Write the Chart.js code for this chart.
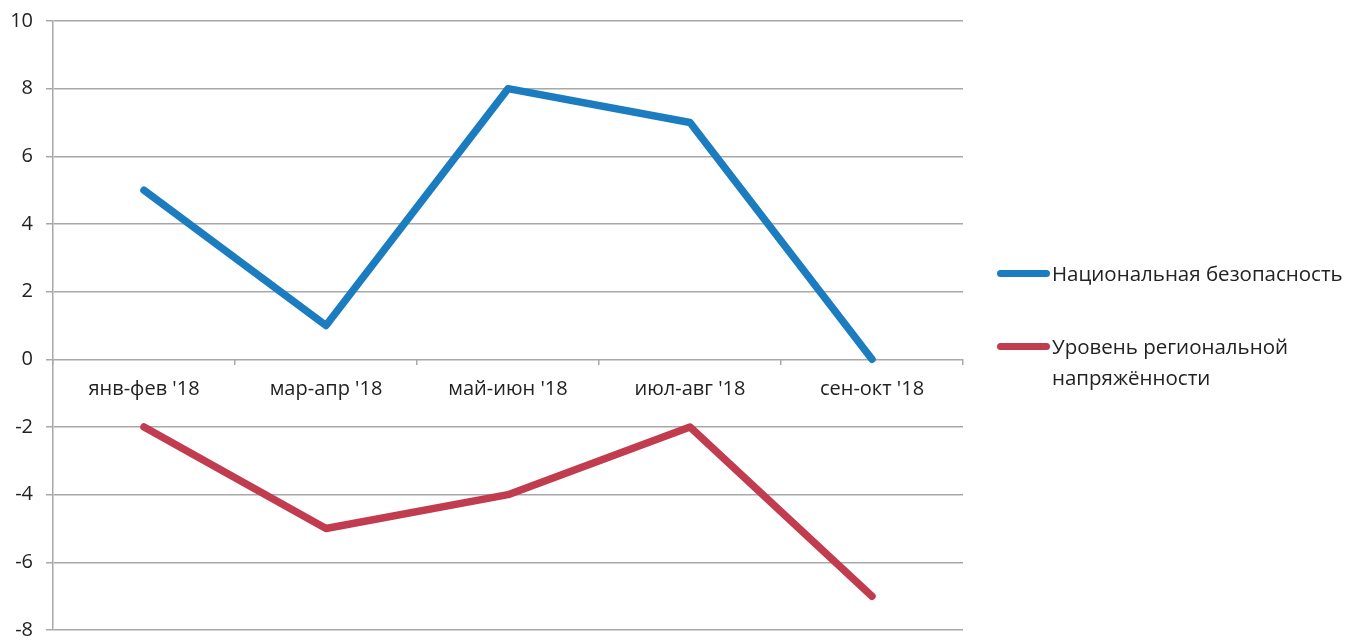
<!DOCTYPE html>
<html>
<head>
<meta charset="utf-8">
<script src="https://cdn.jsdelivr.net/npm/chart.js@4"></script>
<style>
  html, body { margin: 0; padding: 0; background: #fff; }
  #wrap { position: relative; width: 1362px; height: 640px; }
  #legend { position: absolute; left: 997px; top: 0; font-family: "Open Sans", sans-serif; font-size: 20.5px; color: #222; }
  .item { position: absolute; left: 0; display: flex; align-items: flex-start; white-space: nowrap; line-height: 31px; }
  .swatch { width: 53px; height: 7px; border-radius: 4px; margin-top: 12px; margin-right: 2px; }
</style>
</head>
<body>
<div id="wrap">
  <canvas id="chart" width="1362" height="640"></canvas>
  <div id="legend"></div>
</div>
<script>
// ---- Data ----------------------------------------------------------------
const categories = ["янв-фев '18", "мар-апр '18", "май-июн '18", "июл-авг '18", "сен-окт '18"];
const nationalSecurity = [5, 1, 8, 7, 0];
const regionalTension = [-2, -5, -4, -2, -7];
const seriesNames = ["Национальная безопасность", ["Уровень региональной", "напряжённости"]];
const seriesColors = ["#1b7cc0", "#c23c4f"];
const yTicks = { min: -8, max: 10, step: 2 };

// ---- Chart ---------------------------------------------------------------
const font = { family: "'Open Sans', sans-serif", size: 20 };
const gridColor = "#a8a8a8";

new Chart(document.getElementById("chart"), {
  type: "line",
  data: {
    labels: categories,
    datasets: [nationalSecurity, regionalTension].map((d, i) => ({
      label: [].concat(seriesNames[i]).join(" "),
      data: d,
      borderColor: seriesColors[i],
      backgroundColor: seriesColors[i],
      borderWidth: 7.5,
      pointRadius: 0,
      tension: 0,
      borderJoinStyle: "round",
      borderCapStyle: "round"
    }))
  },
  options: {
    responsive: false,
    animation: false,
    layout: { padding: { left: 0, right: 399, top: 21, bottom: 10 } },
    plugins: { legend: { display: false }, tooltip: { enabled: false } },
    scales: {
      x: {
        position: { y: 0 },
        offset: true,
        grid: { offset: true, drawOnChartArea: false, tickLength: 6, color: gridColor, lineWidth: 1.5 },
        border: { display: false },
        ticks: { color: "#222", font, padding: 12, maxRotation: 0 }
      },
      y: {
        min: yTicks.min,
        max: yTicks.max,
        grid: { color: gridColor, lineWidth: 1.5, tickLength: 7 },
        border: { color: gridColor, width: 1.5 },
        ticks: { stepSize: yTicks.step, color: "#222", font, padding: 13 },
        afterFit: (s) => { s.width = 53; s.paddingTop = 0; s.paddingBottom = 0; }
      }
    }
  }
});

// ---- Legend --------------------------------------------------------------
const legend = document.getElementById("legend");
const legendTops = [258, 331];
seriesNames.forEach((name, i) => {
  const item = document.createElement("div");
  item.className = "item";
  item.style.top = legendTops[i] + "px";
  const sw = document.createElement("div");
  sw.className = "swatch";
  sw.style.background = seriesColors[i];
  const txt = document.createElement("div");
  txt.innerHTML = [].concat(name).join("<br>");
  item.appendChild(sw);
  item.appendChild(txt);
  legend.appendChild(item);
});
</script>
</body>
</html>
